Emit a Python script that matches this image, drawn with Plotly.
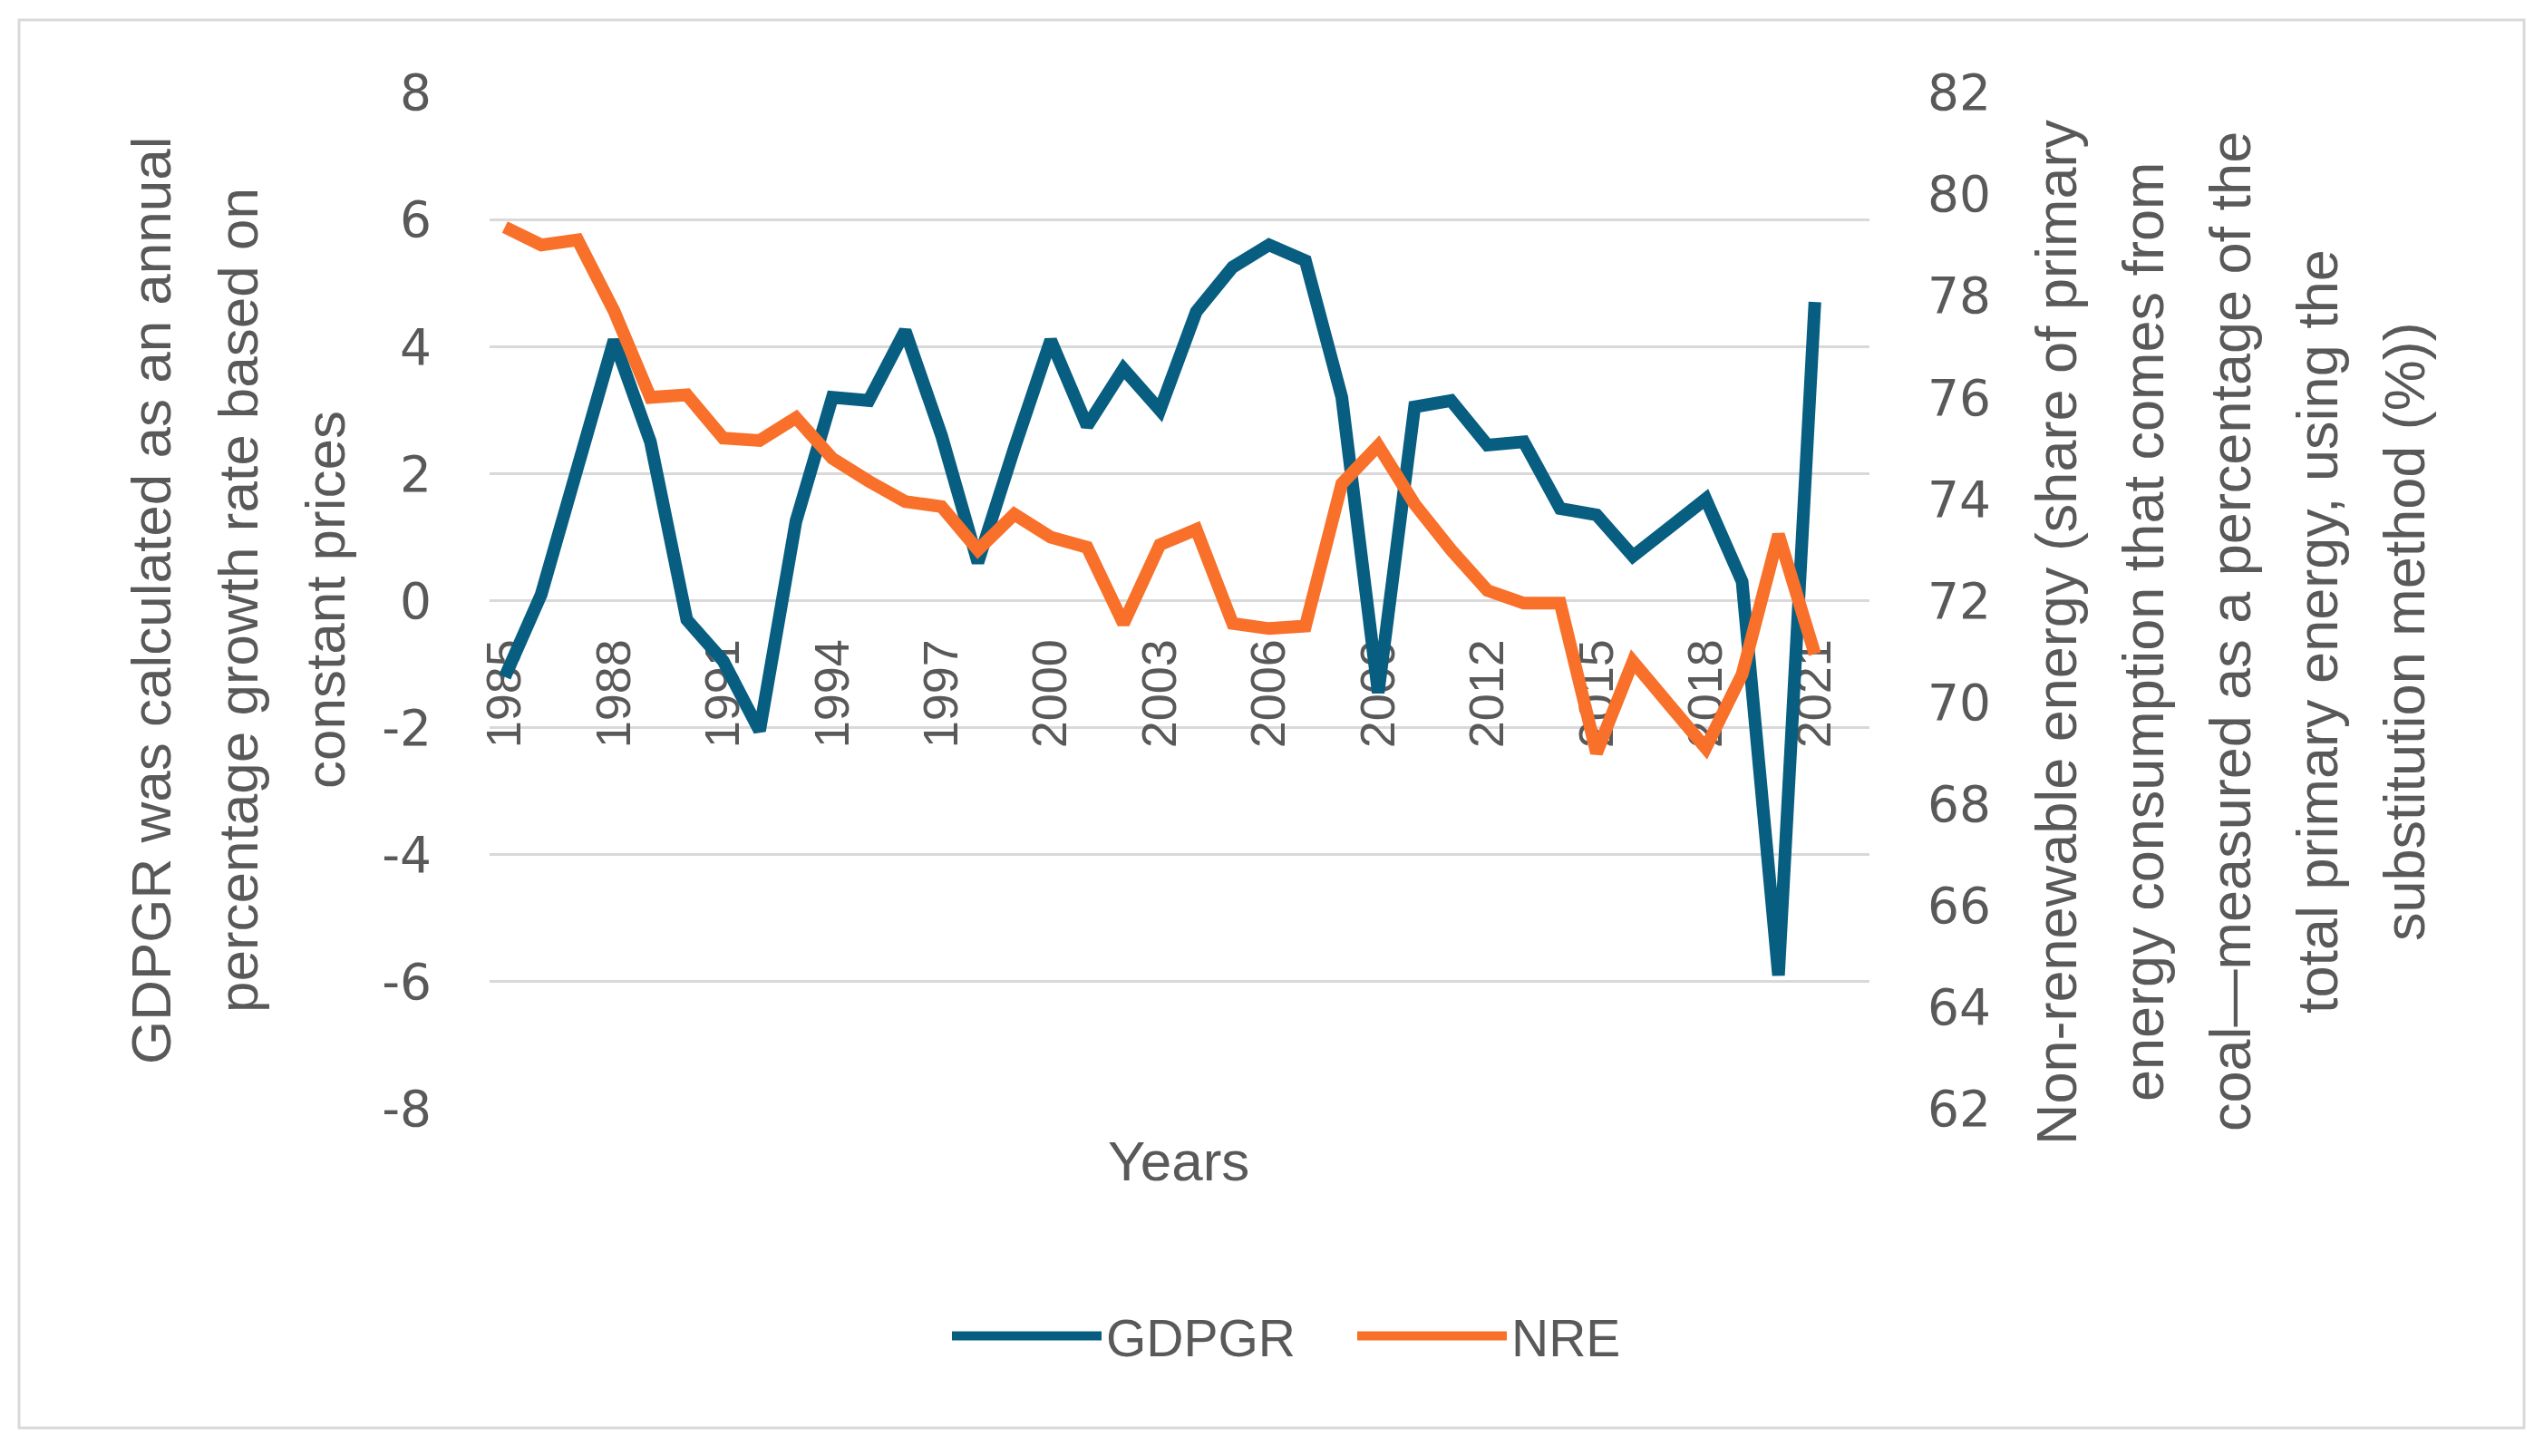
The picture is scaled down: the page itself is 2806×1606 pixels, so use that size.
import plotly.graph_objects as go

# ---------------- data ----------------
years = [1985, 1986, 1987, 1988, 1989, 1990, 1991, 1992, 1993, 1994,
         1995, 1996, 1997, 1998, 1999, 2000, 2001, 2002, 2003, 2004,
         2005, 2006, 2007, 2008, 2009, 2010, 2011, 2012, 2013, 2014,
         2015, 2016, 2017, 2018, 2019, 2020, 2021]
gdpgr = [-1.2, 0.1, 2.1, 4.1, 2.5, -0.3, -0.95, -2.05, 1.25, 3.2,
         3.15, 4.25, 2.6, 0.6, 2.4, 4.1, 2.75, 3.65, 3.0, 4.55,
         5.25, 5.6, 5.35, 3.2, -1.45, 3.05, 3.15, 2.45, 2.5, 1.45,
         1.35, 0.7, 1.15, 1.6, 0.3, -5.9, 4.7]
nre = [79.35, 79.0, 79.1, 77.7, 76.0, 76.05, 75.2, 75.15, 75.6, 74.8,
       74.35, 73.95, 73.85, 73.0, 73.7, 73.25, 73.05, 71.55, 73.1, 73.4,
       71.55, 71.45, 71.5, 74.3, 75.05, 73.9, 73.0, 72.2, 71.95, 71.95,
       69.0, 70.8, 69.95, 69.1, 70.55, 73.3, 70.95]

x_tick_years = [1985, 1988, 1991, 1994, 1997, 2000, 2003, 2006, 2009, 2012, 2015, 2018, 2021]
left_ticks = [-8, -6, -4, -2, 0, 2, 4, 6, 8]
left_tick_text = ["-8", "-6", "-4", "-2", "0", "2", "4", "6", "8"]
right_ticks = [62, 64, 66, 68, 70, 72, 74, 76, 78, 80, 82]

left_title_lines = ["GDPGR was calculated as an annual",
                    "percentage growth rate based on",
                    "constant prices"]
right_title_lines = ["Non-renewable energy (share of primary",
                     "energy consumption that comes from",
                     "coal\u2014measured as a percentage of the",
                     "total primary energy, using the",
                     "substitution method (%))"]
x_title = "Years"

# ---------------- layout geometry (screen pixels) ----------------
OFF = 8                      # default page body margin
W, H = 2806 - 2 * OFF, 1606 - 2 * OFF
ML = 540 - OFF
MT = 102 - OFF
MR = W - (2062 - OFF)
MB = H - (1223 - OFF)
PW, PH = W - ML - MR, H - MT - MB


def px_x(sx):
    return (sx - OFF - ML) / PW


def px_y(sy):
    return 1 - (sy - OFF - MT) / PH


GREY = "#595959"
BLUE = "#075E80"
ORANGE = "#F8702A"
FONT = "Liberation Sans, Arial, sans-serif"

fig = go.Figure()
fig.add_trace(go.Scatter(x=years, y=gdpgr, name="GDPGR", mode="lines",
                         line=dict(color=BLUE, width=14), yaxis="y"))
fig.add_trace(go.Scatter(x=years, y=nre, name="NRE", mode="lines",
                         line=dict(color=ORANGE, width=14), yaxis="y2"))

annotations = []
for i, t in enumerate(left_title_lines):
    annotations.append(dict(text=t, xref="paper", yref="paper",
                            x=px_x(166 + i * 96), y=px_y(662), textangle=-90,
                            xanchor="center", yanchor="middle", showarrow=False,
                            font=dict(family=FONT, size=62, color=GREY)))
for i, t in enumerate(right_title_lines):
    annotations.append(dict(text=t, xref="paper", yref="paper",
                            x=px_x(2268 + i * 96), y=px_y(697), textangle=-90,
                            xanchor="center", yanchor="middle", showarrow=False,
                            font=dict(family=FONT, size=63, color=GREY)))
annotations.append(dict(text=x_title, xref="paper", yref="paper",
                        x=px_x(1300), y=px_y(1280), xanchor="center", yanchor="middle",
                        showarrow=False, font=dict(family=FONT, size=62, color=GREY)))

shapes = [dict(type="rect", xref="paper", yref="paper",
               x0=px_x(21), x1=px_x(2784), y0=px_y(1575), y1=px_y(22),
               line=dict(color="#D9D9D9", width=3), fillcolor="rgba(0,0,0,0)", layer="below")]

fig.update_layout(
    width=W, height=H,
    margin=dict(l=ML, r=MR, t=MT, b=MB, autoexpand=False),
    paper_bgcolor="white", plot_bgcolor="white",
    showlegend=True,
    legend=dict(orientation="h", x=px_x(1045), y=px_y(1474), xanchor="left", yanchor="middle",
                font=dict(family=FONT, size=57, color=GREY), itemwidth=165,
                entrywidth=267, entrywidthmode="pixels",
                bgcolor="rgba(0,0,0,0)"),
    xaxis=dict(range=[1984.58, 2022.5], tickvals=x_tick_years, tickangle=-90,
               anchor="free", position=0.5, showgrid=False, zeroline=False, showline=False,
               ticks="outside", ticklen=20, tickcolor="rgba(0,0,0,0)", layer="below traces",
               tickfont=dict(family=FONT, size=54, color=GREY)),
    yaxis=dict(range=[-8, 8], tickvals=left_ticks, ticktext=left_tick_text,
               showgrid=True, gridcolor="#D9D9D9", gridwidth=3, zeroline=False, showline=False,
               ticks="outside", ticklen=52, tickcolor="rgba(0,0,0,0)",
               tickfont=dict(family="DejaVu Sans, sans-serif", size=55, color=GREY)),
    yaxis2=dict(range=[62, 82], tickvals=right_ticks, overlaying="y", side="right",
                showgrid=False, zeroline=False, showline=False,
                ticks="outside", ticklen=52, tickcolor="rgba(0,0,0,0)",
                tickfont=dict(family="DejaVu Sans, sans-serif", size=55, color=GREY)),
    annotations=annotations,
    shapes=shapes,
)

fig.write_html("out.html")
